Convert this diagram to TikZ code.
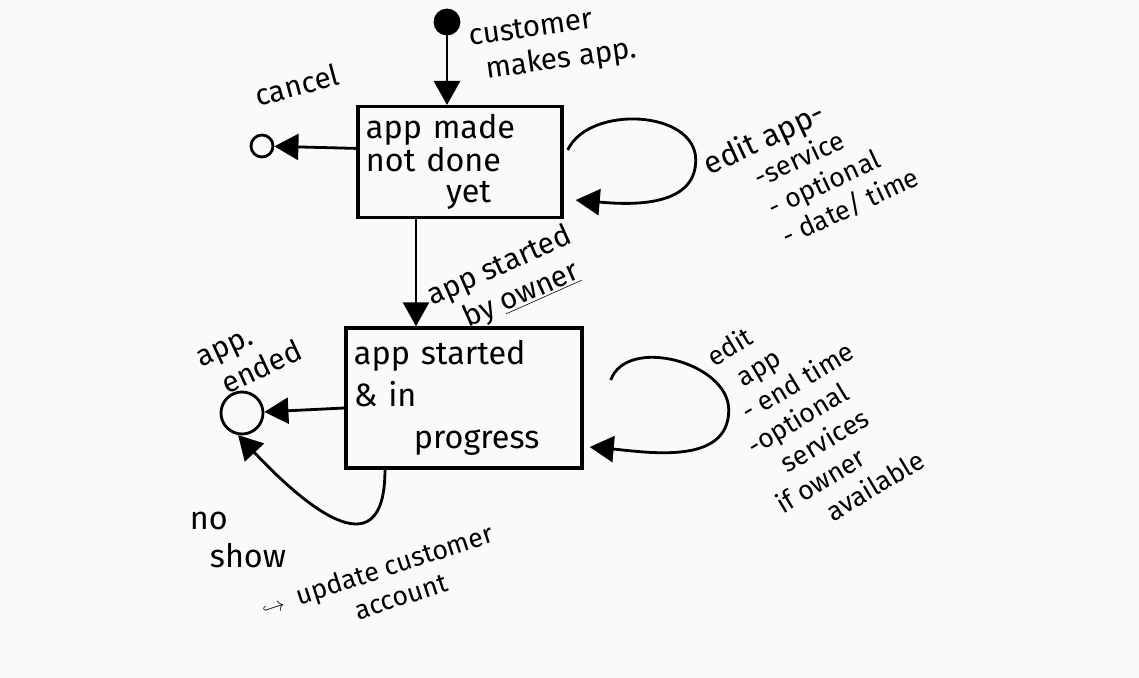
\documentclass[tikz,border=0pt]{standalone}
\usepackage{fontspec}
\setmainfont{Fira Sans}
\usetikzlibrary{arrows.meta,positioning}
\definecolor{paper}{RGB}{250,250,250}

\begin{document}
\begin{tikzpicture}[
    x=0.025cm, y=-0.025cm,
    line width=2pt,
    >={Triangle[length=6mm,width=6.5mm]},
    appstate/.style={draw, line width=2.4pt, align=left, inner sep=2mm,
                     font=\fontsize{23}{22}\selectfont},
    note/.style={align=left, font=\fontsize{21}{25}\selectfont},
    small/.style={align=left, font=\fontsize{19}{23}\selectfont},
    endpt/.style={draw, circle, line width=2pt, inner sep=0pt},
]
\fill[paper] (0,0) rectangle (1139,678);
\useasboundingbox (0,0) rectangle (1139,678);

% --- States ---
\node[endpt, fill=black, minimum size=6mm] (start) at (447,22) {};
\node[appstate, text width=47mm, minimum height=25.5mm] (made) at (460,162)
     {app made\\not done\\\hspace{20mm}yet};
\node[appstate, text width=55mm, minimum height=35mm,
      font=\fontsize{23}{30}\selectfont] (prog) at (464,398)
     {app started\\\& in\\\hspace{15mm}progress};
\node[endpt, minimum size=5.5mm] (cancel) at (262,146) {};
\node[endpt, minimum size=10.5mm] (ended) at (242,413) {};

% --- Transitions ---
\draw[->] (start) -- (start |- made.north);
\draw[->] ([yshift=3.4mm]made.west) -- (cancel);
\draw[->] ([xshift=-11mm]made.south) -- ([xshift=-11mm]made.south |- prog.north);
\draw[->] ([yshift=-2.5mm]prog.west) -- (ended);
\draw[->] ([xshift=-19.75mm]prog.south) .. controls +(0,-27mm) and +(15mm,-16mm) .. (ended.-100);

% self loops (edits)
\draw[->] ([xshift=1mm,yshift=3mm]made.east) to[out=65,in=90] ++(32mm,-2.5mm)
          to[out=-90,in=-5] ([xshift=3mm,yshift=-9.5mm]made.east);
\draw[->] ([xshift=6.75mm,yshift=4.5mm]prog.east) to[out=70,in=90] ++(29.5mm,-7.5mm)
          to[out=-90,in=-5] ([xshift=1.5mm,yshift=-12.25mm]prog.east);

% --- Labels ---
\node[note, rotate=8] (makes) at (553,45) {customer\\\hspace{3mm}makes app.};
\node[note, rotate=15] (cancellbl) at (297,85) {cancel};
\node[small, rotate=25] (editmade) at (811,170)
     {{\fontsize{22}{22}\selectfont edit app-}\\\hspace{10mm}-service\\\hspace{10mm}- optional\\\hspace{10mm}- date/ time};
\node[note, rotate=24] (startedby) at (507,283) {app started\\\hspace{6mm}by \underline{owner}};
\node[note, rotate=25] (endedlbl) at (250,356) {app.\\\hspace{3mm}ended};
\node[small, rotate=31] (editprog) at (808,412)
     {\hspace{4.25mm}edit\\\hspace{8mm}app\\\hspace{4.5mm}- end time\\\hspace{1.25mm}-optional\\\hspace{6.25mm}services\\if owner\\\hspace{9.75mm}available};
\node[note, font=\fontsize{23}{27}\selectfont] (noshow) at (238,540) {no\\\hspace{5mm}show};
\node[small, rotate=18] (update) at (382,585) {{\Large$\hookrightarrow$}\ \ update customer\\\hspace{22mm}account};

\end{tikzpicture}
\end{document}
